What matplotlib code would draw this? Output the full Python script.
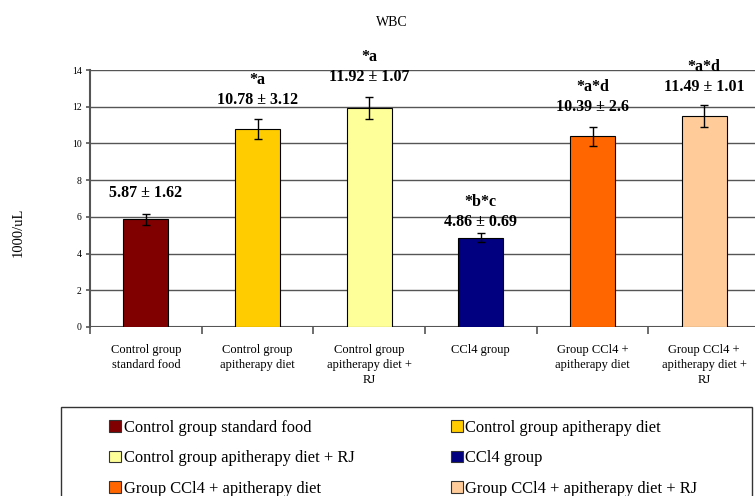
import matplotlib
matplotlib.use('Agg')
import matplotlib.pyplot as plt
from matplotlib.patches import Rectangle, Patch

plt.rcParams['font.family'] = ['Liberation Serif', 'DejaVu Serif']

groups = ['Control group standard food', 'Control group apitherapy diet',
          'Control group apitherapy diet + RJ', 'CCl4 group',
          'Group CCl4 + apitherapy diet', 'Group CCl4 + apitherapy diet + RJ']
tick_labels = ['Control group\nstandard food', 'Control group\napitherapy diet',
               'Control group\napitherapy diet +\nRJ', 'CCl4 group',
               'Group CCl4 +\napitherapy diet', 'Group CCl4 +\napitherapy diet +\nRJ']
means = [5.87, 10.78, 11.92, 4.86, 10.39, 11.49]
sds = [1.62, 3.12, 1.07, 0.69, 2.6, 1.01]
err = [0.29, 0.55, 0.59, 0.25, 0.52, 0.58]
marks = ['', '*a', '*a', '*b*c', '*a*d', '*a*d']
colors = ['#800000', '#FFCC00', '#FFFF99', '#000080', '#FF6600', '#FFCC99']

# where the value labels sit above each bar (data units)
label_y = [7.3, 12.36, 13.62, 5.72, 11.98, 13.07]

fig = plt.figure(figsize=(7.55, 4.96), dpi=100)
ax = fig.add_axes([90/755, 1 - 327/496, 670/755, 257/496])

x = range(len(means))
ax.bar(x, means, width=0.4, color=colors, edgecolor='black', linewidth=0.8, zorder=3)
ax.errorbar(x, means, yerr=err, fmt='none', ecolor='black', elinewidth=1,
            capsize=3, capthick=1, zorder=4)

for i, (m, s) in enumerate(zip(means, sds)):
    ax.text(i, label_y[i], '%s \u00b1 %s' % (m, s), ha='center', va='center',
            fontsize=11.5, fontweight='bold', zorder=5)
    if marks[i]:
        ax.annotate(marks[i], (i, label_y[i]), xytext=(0, 14.5),
                    textcoords='offset points', ha='center', va='center',
                    fontsize=11.5, fontweight='bold')

ax.set_xlim(-0.5, 5.5)
ax.set_ylim(0, 14)
ax.set_yticks(range(0, 15, 2))
ax.yaxis.grid(True, color='#555555', linewidth=1)
ax.set_axisbelow(True)
for sp in ['top', 'right', 'bottom']:
    ax.spines[sp].set_visible(False)
ax.spines['left'].set_color('#555555')
ax.spines['left'].set_linewidth(1.5)
ax.tick_params(axis='y', labelsize=7, length=3, color='#555555', width=1.2, pad=3)

ax.set_xticks([i + 0.5 for i in range(-1, 6)], minor=False)
ax.set_xticklabels([])
ax.tick_params(axis='x', length=5, color='#555555', width=1.2)
for i, lab in enumerate(tick_labels):
    ax.text(i, -0.9, lab, ha='center', va='top', fontsize=9, linespacing=1.35)
ax.axhline(0, color='#555555', linewidth=1.5, zorder=2)

fig.text(392/755, 1 - 22/496, 'WBC', ha='center', va='center', fontsize=10)
fig.text(18/755, 1 - 232/496, '1000/uL', ha='center', va='center',
         rotation=90, fontsize=10.5)

# legend box
fig.patches.append(Rectangle((61/755, -0.05), 691/755, 1.05 - 407/496,
                             transform=fig.transFigure, fill=False,
                             edgecolor='#333333', linewidth=1))
# legend fills column by column, the reference reads row by row
order = [0, 2, 4, 1, 3, 5]
handles = [Patch(facecolor=colors[k], edgecolor='#333333', linewidth=0.8) for k in order]
fig.legend(handles, [groups[k] for k in order], loc='upper left',
           bbox_to_anchor=(102.7/755, 1 - 413.5/496),
           ncol=2, frameon=False, fontsize=11.9, handlelength=0.73,
           handleheight=0.73, handletextpad=0.15, labelspacing=0.86,
           columnspacing=5.82, borderaxespad=0)

fig.savefig('out.png', dpi=100)
